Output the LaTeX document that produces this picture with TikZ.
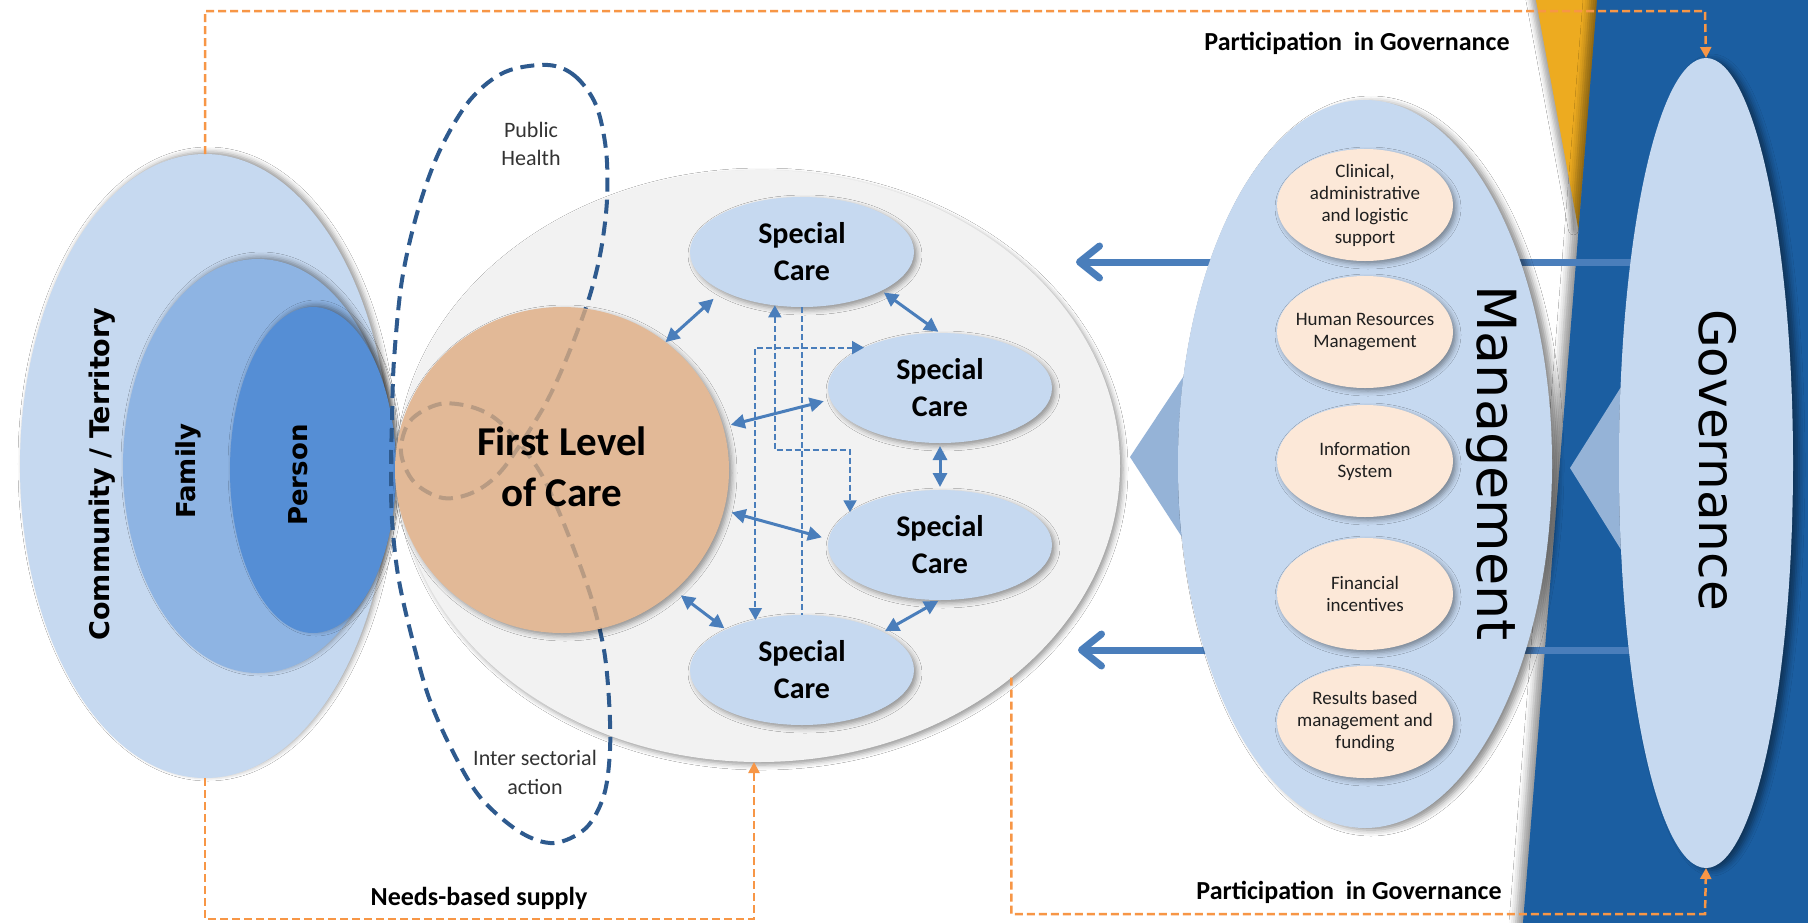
\documentclass[tikz,border=0pt]{standalone}
\usepackage{fontspec}
\setmainfont{Carlito}
\newfontfamily\dvs{DejaVu Sans}
\usetikzlibrary{shapes.geometric,arrows.meta,shadows.blur}
\definecolor{lblue}{HTML}{C6D9F0}
\definecolor{fblue}{HTML}{8EB4E3}
\definecolor{pblue}{HTML}{558ED5}
\definecolor{ggray}{HTML}{F2F2F2}
\definecolor{tanc}{HTML}{E2B997}
\definecolor{peach}{HTML}{FCE8D8}
\definecolor{abl}{HTML}{4A7EBB}
\definecolor{dkb}{HTML}{1B5EA1}
\definecolor{gold}{HTML}{EDAB20}
\definecolor{orng}{HTML}{F79646}
\definecolor{loopc}{HTML}{2E5A8E}
\definecolor{loopfaint}{HTML}{B89B83}
\definecolor{ptr}{HTML}{95B3D7}
\newcommand\looppath{plot[smooth cycle,tension=0.55] coordinates {(548,65) (575,76) (596,105) (606,150) (607,200) (601,250) (590,295) (574,340) (555,385) (536,420) (502,470) (474,492) (443,498) (414,482) (401,452) (410,421) (440,404) (475,408) (503,425) (537,467) (556,505) (575,552) (592,600) (604,650) (609,700) (610,750) (604,795) (586,828) (554,843) (520,832) (480,797) (451,748) (428,695) (410,630) (398,575) (392,520) (391,470) (392,420) (394,360) (402,280) (418,210) (440,150) (470,100) (505,72)}}
\begin{document}
\begin{tikzpicture}[x=1pt,y=-1pt,
  ell/.style={ellipse,inner sep=0pt,outer sep=0pt},
  shad/.style={blur shadow={shadow xshift=3pt,shadow yshift=-3pt,shadow blur radius=5pt,shadow opacity=40}},
  cshad/.style={blur shadow={shadow xshift=3pt,shadow yshift=2pt,shadow blur radius=5pt,shadow opacity=40}},
  mshad/.style={blur shadow={shadow xshift=6pt,shadow yshift=-2pt,shadow blur radius=6pt,shadow opacity=45}},
  scnode/.style={ell,fill=lblue,minimum width=224pt,minimum height=110pt,shad,align=center,font=\bfseries\fontsize{30}{37}\selectfont},
  pc/.style={ell,fill=peach,minimum width=176pt,minimum height=112pt,shad},
  ptext/.style={align=center,font=\fontsize{19}{22}\selectfont,text=black!88},
  dbl/.style={draw=abl,line width=3pt,{Triangle[length=14pt,width=14pt]}-{Triangle[length=14pt,width=14pt]}},
  sdash/.style={draw=abl,line width=2pt,dash pattern=on 6pt off 3pt},
  stip/.style={{Triangle[length=12pt,width=13pt]}-{Triangle[length=12pt,width=13pt]}},
  bigarr/.style={draw=abl,line width=7pt,-{Straight Barb[length=20pt,width=32pt,round]}},
  conn/.style={draw=orng,line width=2.5pt,dash pattern=on 8pt off 4pt,-{Triangle[length=11pt,width=11pt]}},
  loopst/.style={draw=loopc,line width=4pt,dash pattern=on 14pt off 8pt},
  lbl/.style={font=\bfseries\fontsize{26}{30}\selectfont}
]
\useasboundingbox (0,0) rectangle (1808,922);
\fill[white] (0,0) rectangle (1808,922);
\fill[gold,blur shadow={shadow xshift=-5pt,shadow yshift=0pt,shadow blur radius=5pt,shadow opacity=35}] (1535,-5) -- (1598,-5) -- (1578.5,230) -- cycle;
\fill[dkb,blur shadow={shadow xshift=-7pt,shadow yshift=0pt,shadow blur radius=7pt,shadow opacity=40}] (1597.4,-5) -- (1815,-5) -- (1815,930) -- (1522.4,930) -- cycle;
\fill[ptr] (1130,457) -- (1215,329) -- (1215,588) -- cycle;
\fill[ptr] (1570,468) -- (1650,341) -- (1650,596) -- cycle;

% thick arrows (under management and governance)
\coordinate (g1) at (1640,262);
\coordinate (g2) at (1640,650);
\coordinate (t1) at (1076,262);
\coordinate (t2) at (1078,650);
\draw[bigarr] (g1) -- (t1);
\draw[bigarr] (g2) -- (t2);

% person / family / community
\node[ell,fill=lblue,minimum width=370pt,minimum height=624pt,cshad] (comm) at (205,466) {};
\node[ell,fill=fblue,minimum width=270pt,minimum height=414pt,cshad] (fam) at (258,466) {};
\node[ell,fill=pblue,minimum width=166pt,minimum height=326pt,cshad] (per) at (313,470) {};
\node[rotate=90,font=\dvs\bfseries\fontsize{27}{32}\selectfont] (tcomm) at (102,474) {Community / Territory};
\node[rotate=90,font=\dvs\bfseries\fontsize{26}{31}\selectfont] (tfam) at (188,471) {Family};
\node[rotate=90,font=\dvs\bfseries\fontsize{26}{31}\selectfont] (tper) at (298,475) {Person};

% care network
\node[ell,fill=ggray,minimum width=722pt,minimum height=592pt,shad] (gray) at (759,466) {};
\draw[loopst] \looppath;
\node[ell,fill=tanc,minimum width=334pt,minimum height=326pt,shad] (flc) at (562,470) {};
\begin{scope}
\clip (562,470) ellipse [x radius=166, y radius=162];
\draw[loopst,draw=loopfaint] \looppath;
\end{scope}
\node[align=center,font=\bfseries\fontsize{41}{51}\selectfont] (tflc) at (562,467) {First Level\\of Care};
\node[align=center,font=\fontsize{22}{28}\selectfont,text=black!80] (tph) at (531,144) {Public\\Health};
\node[align=center,font=\fontsize{22}{29}\selectfont,text=black!80] (tis) at (535,772) {Inter sectorial\\action};

\node[scnode] (sc1) at (802,252) {Special\\Care};
\node[scnode] (sc2) at (940,388) {Special\\Care};
\node[scnode] (sc3) at (940,545) {Special\\Care};
\node[scnode] (sc4) at (802,670) {Special\\Care};

\draw[dbl,shorten >=12pt] (flc.51) -- (sc1.206);
\draw[dbl,shorten <=3pt,shorten >=2pt] (sc1.-26) -- (sc2.90);
\draw[dbl,shorten <=8pt,shorten >=7pt] (flc.15) -- (sc2.186);
\draw[dbl,shorten <=3pt,shorten >=3pt] (sc2.-90) -- (sc3.90);
\draw[dbl,shorten <=8pt,shorten >=7pt] (flc.-14) -- (sc3.177);
\draw[dbl,shorten <=8pt,shorten >=2pt] (flc.-47) -- (sc4.152);
\draw[dbl,shorten <=2pt,shorten >=2pt] (sc3.-90) -- (sc4.25);

\coordinate (a1) at (775,450);
\draw[sdash,stip] (sc1.-117) -- (sc1.-117 |- a1) -- (a1 -| sc3.160) -- (sc3.160);
\draw[sdash] (sc1.south) -- (sc4.north);
\draw[sdash,stip] (sc2.152) -- (sc2.152 -| sc4.133) -- (sc4.133);

% management
\node[ell,fill=lblue,minimum width=374pt,minimum height=728pt,mshad] (mgmt) at (1365,464) {};
\node[rotate=-90,font=\dvs\fontsize{54}{60}\selectfont] (tmgmt) at (1492,463) {Management};
\node[pc] (c1) at (1365,205) {};
\node[pc] (c2) at (1365,332) {};
\node[pc] (c3) at (1365,461) {};
\node[pc] (c4) at (1365,594) {};
\node[pc] (c5) at (1365,722) {};
\node[ptext] at (c1) {Clinical,\\administrative\\and logistic\\support};
\node[ptext] at (c2) {Human Resources\\Management};
\node[ptext] at (c3) {Information\\System};
\node[ptext] at (c4) {Financial\\incentives};
\node[ptext] at (c5) {Results based\\management and\\funding};

% governance
\node[ell,fill=lblue,minimum width=174pt,minimum height=810pt,mshad] (gov) at (1706,463) {};
\node[rotate=-90,font=\dvs\fontsize{50}{56}\selectfont] (tgov) at (1718,460) {Governance};

% orange connectors
\coordinate (tl) at (205,11);
\coordinate (tr) at (1705,11);
\draw[conn] (comm.north) -- (tl) -- (tr) -- (gov.north);
\coordinate (bl1) at (205,919);
\coordinate (bl2) at (754,919);
\draw[conn] (comm.south) -- (bl1) -- (bl2) -- (bl2 |- gray.south);
\coordinate (br1) at (1011,914);
\coordinate (br2) at (1705,914);
\draw[conn] (gray.-40) -- (gray.-40 |- br1) -- (br2) -- (gov.south);

\node[lbl] (pg1) at (1357,43) {Participation~ in Governance};
\node[lbl] (pg2) at (1349,892) {Participation~ in Governance};
\node[lbl] (nbs) at (479,898) {Needs-based supply};
\end{tikzpicture}
\end{document}
